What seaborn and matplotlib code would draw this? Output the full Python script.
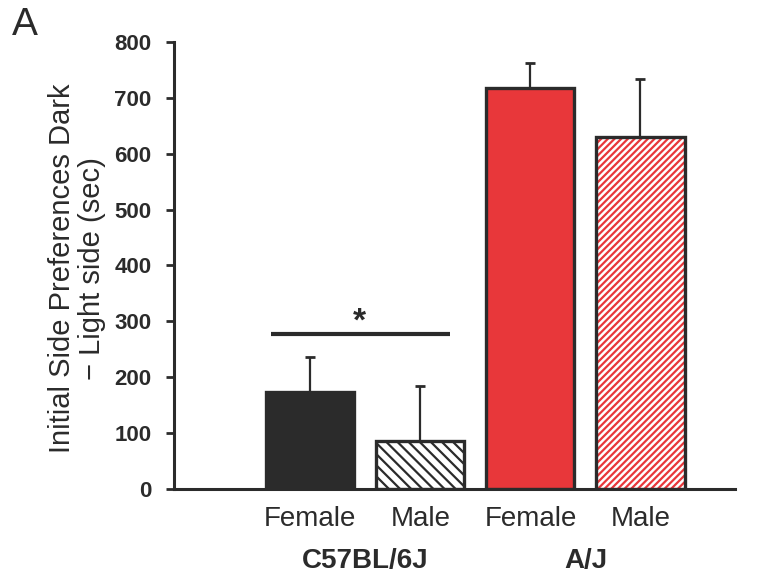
import matplotlib
matplotlib.use("Agg")
import matplotlib.pyplot as plt
from matplotlib.patches import Rectangle
from matplotlib.transforms import blended_transform_factory
import seaborn as sns
import pandas as pd
import numpy as np

# ---- data ----
strains = ["C57BL/6J", "C57BL/6J", "A/J", "A/J"]
sexes = ["Female", "Male", "Female", "Male"]
means = [174, 86, 717, 630]
sems = [62, 98, 45, 103]
group_labels = ["C57BL/6J", "A/J"]
y_ticks = [0, 100, 200, 300, 400, 500, 600, 700, 800]
ylabel = "Initial Side Preferences Dark\n\u2212 Light side (sec)"
sig_y = 277

DARK = "#2b2b2b"
RED = "#e8373a"
fills = [DARK, "white", RED, "white"]
hatch_colors = [DARK, DARK, RED, RED]
hatches = [None, "\\\\\\", None, "/////"]

sns.set_theme(style="white")
plt.rcParams["font.family"] = ["Liberation Sans", "DejaVu Sans"]
plt.rcParams["hatch.linewidth"] = 1.6

cats = [f"{s} {x}" for s, x in zip(strains, sexes)]
df = pd.DataFrame({"cat": cats, "value": means})

fig = plt.figure(figsize=(7.73, 5.82), dpi=100)
ax = fig.add_axes([0.225, 0.16, 0.726, 0.768])

sns.barplot(data=df, x="cat", y="value", hue="cat", palette=fills,
            order=cats, width=0.8, legend=False, ax=ax, errorbar=None,
            saturation=1)

for i, p in enumerate(ax.patches):
    x0, y0 = p.get_x(), p.get_y()
    w, h = p.get_width(), p.get_height()
    if hatches[i]:
        p.set_facecolor("white")
        p.set_edgecolor(hatch_colors[i])
        p.set_hatch(hatches[i])
        p.set_linewidth(0)
    else:
        p.set_facecolor(fills[i])
        p.set_edgecolor(DARK)
        p.set_linewidth(0)
    ax.add_patch(Rectangle((x0, y0), w, h, fill=False, edgecolor=DARK,
                           linewidth=2.4, zorder=3))

xs = np.arange(len(cats))
ax.errorbar(xs, means, yerr=[np.zeros(len(sems)), sems], fmt="none",
            ecolor=DARK, elinewidth=1.6, capsize=3.5, capthick=2, zorder=1)

ax.set_ylim(0, 800)
ax.set_xlim(-1.24, 3.86)
ax.set_yticks(y_ticks)
ax.set_yticklabels([str(t) for t in y_ticks], fontweight="bold", fontsize=16,
                   color=DARK)
ax.set_xticks(xs)
ax.set_xticklabels(sexes, fontsize=20, color=DARK)
ax.tick_params(axis="y", length=6, width=2, color=DARK, pad=10, direction="out", left=True)
ax.tick_params(axis="x", length=0, pad=12)
ax.set_xlabel("")
ax.set_ylabel(ylabel, fontsize=21, color=DARK, linespacing=1.1)
ax.yaxis.set_label_coords(-0.121, 0.494)

for s in ["top", "right"]:
    ax.spines[s].set_visible(False)
for s in ["left", "bottom"]:
    ax.spines[s].set_linewidth(2.2)
    ax.spines[s].set_color(DARK)

# significance marker
ax.plot([-0.36, 1.27], [sig_y, sig_y], color=DARK, linewidth=3, solid_capstyle="butt")
ax.text(0.45, sig_y - 6, "*", ha="center", va="bottom", fontsize=24,
        fontweight="bold", color=DARK)

trans = blended_transform_factory(ax.transData, ax.transAxes)
for gx, g in zip([0.5, 2.5], group_labels):
    ax.text(gx, -0.162, g, transform=trans, ha="center", va="center",
            fontsize=20, fontweight="bold", color=DARK)

fig.text(0.015, 0.94, "A", fontsize=28, ha="left", va="baseline", color=DARK)

fig.savefig("out.png", dpi=100)
